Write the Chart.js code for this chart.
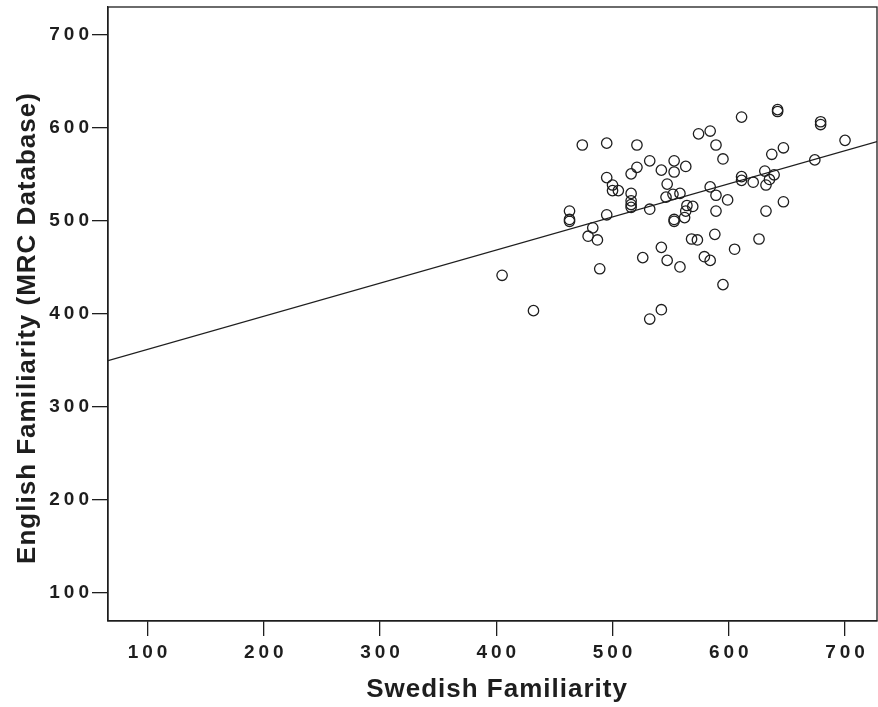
<!DOCTYPE html>
<html>
<head>
<meta charset="utf-8">
<script src="https://cdn.jsdelivr.net/npm/chart.js@4"></script>
<style>
    html, body { margin: 0; padding: 0; background: #fff; }
    #wrap { width: 878px; height: 707px; }
</style>
</head>
<body>
<div id="wrap"><canvas id="familiarityChart" width="878" height="707"></canvas></div>
<script>
// Swedish vs English familiarity ratings, one point per word
const swedish = [405, 432, 463, 463, 463, 474, 479, 483, 487, 489,
    495, 495, 495, 500, 500, 505, 516, 516, 516, 516,
    516, 521, 521, 526, 532, 532, 532, 542, 542, 542,
    547, 546, 547, 552, 553, 553, 553, 553, 558, 558,
    563, 564, 563, 562, 569, 568, 573, 574, 584, 589,
    595, 584, 589, 589, 588, 579, 584, 595, 599, 605,
    611, 611, 611, 621, 626, 631, 632, 632, 635, 637,
    639, 642, 642, 647, 647, 674, 679, 679, 700];
const english = [441, 403, 510, 501, 499, 581, 483, 492, 479, 448,
    583, 546, 506, 538, 532, 532, 550, 529, 521, 517,
    514, 581, 557, 460, 564, 512, 394, 554, 471, 404,
    539, 525, 457, 528, 564, 552, 501, 499, 529, 450,
    558, 516, 510, 503, 515, 480, 479, 593, 596, 581,
    566, 536, 527, 510, 485, 461, 457, 431, 522, 469,
    611, 547, 543, 541, 480, 553, 538, 510, 544, 571,
    549, 619, 617, 578, 520, 565, 606, 603, 586];

// linear fit line
const fitIntercept = 325.7;
const fitSlope = 0.356;

const xTicks = [100, 200, 300, 400, 500, 600, 700];
const yTicks = [100, 200, 300, 400, 500, 600, 700];
const xRange = [66, 727.5];
const yRange = [69.5, 729.3];

const ink = "#1e1e1e";

const letterSpacing = {
    id: "letterSpacing",
    beforeLayout(chart) { chart.ctx.letterSpacing = "4px"; },
    beforeDraw(chart) { chart.ctx.letterSpacing = "4px"; }
};

// box around the plot + axis titles
const frame = {
    id: "frame",
    afterDraw(chart) {
        const { ctx, chartArea: a } = chart;
        ctx.save();
        ctx.strokeStyle = ink;
        ctx.lineWidth = 1.3;
        ctx.strokeRect(a.left, a.top, a.right - a.left, a.bottom - a.top);

        ctx.letterSpacing = "1px";
        ctx.fillStyle = ink;
        ctx.font = "bold 26px 'Liberation Sans', Arial, sans-serif";
        ctx.textAlign = "center";
        ctx.textBaseline = "middle";
        ctx.fillText("Swedish Familiarity", 497, 690);

        ctx.translate(28, 328);
        ctx.rotate(-Math.PI / 2);
        ctx.fillText("English Familiarity (MRC Database)", 0, 0);
        ctx.restore();
    }
};

const tickFont = { family: "'Liberation Sans', Arial, sans-serif", size: 19, weight: "bold" };

new Chart(document.getElementById("familiarityChart").getContext("2d"), {
    type: 'scatter',
    data: {
        datasets: [
            {
                label: "Words",
                data: swedish.map((x, i) => ({ x: x, y: english[i] })),
                pointRadius: 5.2,
                pointBorderWidth: 1.3,
                borderColor: ink,
                backgroundColor: "rgba(0,0,0,0)"
            },
            {
                label: "Fit",
                type: 'line',
                data: xRange.map(x => ({ x: x, y: fitIntercept + fitSlope * x })),
                borderColor: ink,
                borderWidth: 1.3,
                pointRadius: 0,
                fill: false
            }
        ]
    },
    options: {
        responsive: false,
        animation: false,
        devicePixelRatio: 1,
        layout: { autoPadding: false, padding: { top: 7, right: 1, left: 0, bottom: 0 } },
        plugins: {
            legend: { display: false },
            tooltip: { enabled: false }
        },
        scales: {
            x: {
                type: 'linear',
                min: xRange[0],
                max: xRange[1],
                afterBuildTicks: s => { s.ticks = xTicks.map(v => ({ value: v })); },
                afterFit: s => { s.height = 86; s.paddingLeft = 0; s.paddingRight = 0; },
                border: { display: true, color: ink, width: 1.3 },
                grid: { drawOnChartArea: false, drawTicks: true, tickLength: 15, color: ink, lineWidth: 1.3 },
                ticks: { font: tickFont, color: ink, padding: 5, maxRotation: 0, labelOffset: 2 }
            },
            y: {
                type: 'linear',
                min: yRange[0],
                max: yRange[1],
                afterBuildTicks: s => { s.ticks = yTicks.map(v => ({ value: v })); },
                afterFit: s => { s.width = 108; s.paddingTop = 0; s.paddingBottom = 0; },
                border: { display: true, color: ink, width: 1.3 },
                grid: { drawOnChartArea: false, drawTicks: true, tickLength: 16, color: ink, lineWidth: 1.3 },
                ticks: { font: tickFont, color: ink, padding: -1 }
            }
        }
    },
    plugins: [letterSpacing, frame]
});
</script>
</body>
</html>
